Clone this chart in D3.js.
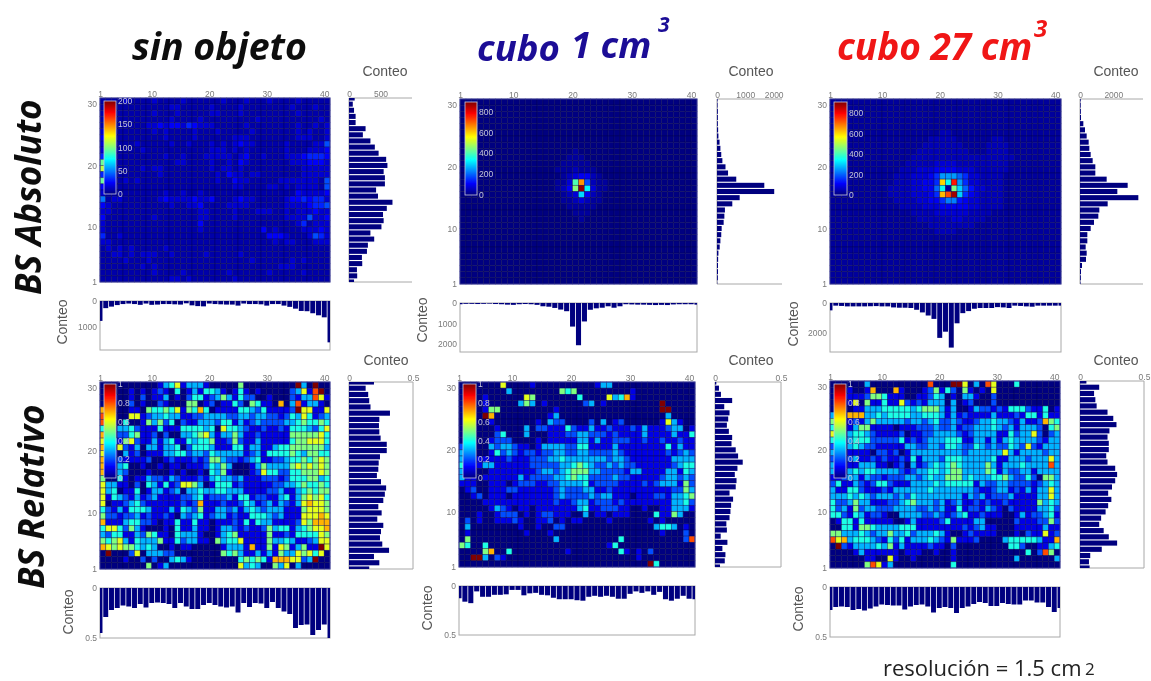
<!DOCTYPE html>
<html>
<head>
<meta charset="utf-8">
<script src="https://cdn.jsdelivr.net/npm/d3@7"></script>
<style>
body { margin: 0; background: #fff; }
svg { display: block; }
.tick text { font-family: "Liberation Sans", Arial, sans-serif; }
</style>
</head>
<body>
<div id="chart"></div>
<script>
// tick labels
const xTicks = [1, 10, 20, 30, 40];
const yTicks = [1, 10, 20, 30];

// cell values, one string per row, row 30 first, one base 36 digit per cell
const heatSinAbs = [
  "1111211112111121111112111211121111211111", "1111111111112211111211112111111112111211",
  "1111111112111211111221112111111111211111", "1111111111112111121111111112111111111121",
  "1111111122323324322211111211111111211212", "2111111112121111211121111121111111212112",
  "3111111111121111211111122211111111222112", "2111112111112112111212123221111121111225",
  "2111111211111111111222121211111121112223", "4211111111121121112222212311211122234443",
  "c211111111111221111211213211111112223332", "e211111212211111111212212111111111122222",
  "4111111111211111111121322122111111122222", "c211212111111111111121132211111222222215",
  "3111111111111111111111122111122121222215", "2111111111121121121111111111111111322223",
  "6122111111232222322311123221111123343442", "3211111111112112231111222211111122223445",
  "2211111111111111122111121112221121222322", "3111111112111111122111121111111122225223",
  "2111111111111111131111111111111111241222", "2111111111111111121111111111312111122232",
  "4112111111111111111111111111133321112542", "2211111111111111111111111111112122111222",
  "1212121111121111111111111111111111111111", "1122121222112111112111112111111111111111",
  "1111211121111111111111111121111112121111", "1111111212111111111111111111111222111111",
  "1111111112111121111111211111121111121111", "1111111111112212111111121111111111111111"
];
const heatCubo1Abs = [
  "0000000000000000000000000000000000000000", "0000000000000000000000000000000000000000",
  "0000000000000000000000000000000000000000", "0000000000000000000000000000000000000000",
  "0000000000000000000000000000000000000000", "0000000000000000000000000000000000000000",
  "0000000000000000000000000000000000000000", "0000000000000000000000000000000000000000",
  "0000000000000000000100000000000000000000", "0000000000000000001110000000000000000000",
  "0000000000000000011111000000000000000000", "0000000000000000111211100000000000000000",
  "0000000000000000012344210000000000000000", "0000000000000000113gq7211000000000000000",
  "0000000000000000124izd311000000000000000", "00000000000000000123c4210000000000000000",
  "0000000000000000011232110000000000000000", "0000000000000000001111100000000000000000",
  "0000000000000000000111000000000000000000", "0000000000000000000010000000000000000000",
  "0000000000000000000000000000000000000000", "0000000000000000000000000000000000000000",
  "0000000000000000000000000000000000000000", "0000000000000000000000000000000000000000",
  "0000000000000000000000000000000000000000", "0000000000000000000000000000000000000000",
  "0000000000000000000000000000000000000000", "0000000000000000000000000000000000000000",
  "0000000000000000000000000000000000000000", "0000000000000000000000000000000000000000"
];
const heatCubo27Abs = [
  "1111111111111111111111111111111111111111", "1111111111111111111111111111111111111111",
  "1111111111111111111111111111111111111111", "1111111111111111111111111111111111111111",
  "1111111111111111111111111111111111111111", "1111111111111111111221111111111111111111",
  "1111111111111111122222111111221111111111", "1111111111111111222222211112222111111111",
  "1111111111111112222222221112222111111111", "1111111111111122222222222222222211111111",
  "1111111111111222223333222222222111111111", "1111111111112223334444333222222111111111",
  "1111111111122233346aaa863322221111111111", "1111111111122233446oeva63322221111111111",
  "1111111111222233448e1ic85332221111111111", "1111111111222233346ptzc64322221111111111",
  "1111111111122223344699543322221111111111", "1111111111112222333444443322221111111111",
  "1111111111111122223333332222111111111111", "1111111111111112222223322221111111111111",
  "1111111111111111122222222111111111111111", "1111111111111111112222111111111111111111",
  "1111111111111111111111111111111111111111", "1111111111111111111111111111111111111111",
  "1111111111111111111111111111111111111111", "1111111111111111111111111111111111111111",
  "1111111111111111111111111111111111111111", "1111111111111111111111111111111111111111",
  "1111111111111111111111111111111111111111", "1111111111111111111111111111111111111111"
];
const heatSinRel = [
  "0000000000134613331000005000000000930900", "0000010101210401314431014101000002361890",
  "0010010201130102441235314220010002133861", "0010020100210005501201142054110703813310",
  "7000011054454615474011114432411112966116", "8000066123343311223333223323322124364123",
  "8000400153524021133324413123222233454454", "4003342111411144443406443211211214443246",
  "7002245112020033456313353112111115555564", "6031562113134114344511252113111114556664",
  "7006213033133402444311144133113445555553", "6010312011133442332433333123144445435544",
  "7002111120012111212553221234112234454565", "7003400100101101112435300013533335656565",
  "7003200010001010010435100012644224455565", "5004101132213211121343323111222124445534",
  "6331102043141266530144412111112233454454", "6340114013312303343344333111122311345455",
  "6143213123111122341222314412211341356564", "6011234211111121271112112431231321367665",
  "4213144431113143251133231343233311156665", "5221223121121032341233121144432311166676",
  "7111344221011411411011121414331111265777", "4664253100010411311013321211253441345667",
  "3244113254110433310013451111151121444465", "5456314333511423311053446111153343112366",
  "7656554343001011000001333171151651351196", "0900026033322000000005453113131533656460",
  "0000100202003431000000004545417776623900", "0000000050130000000000006343005360300000"
];
const heatCubo1Rel = [
  "0000000600001000000000013300000000000000", "0000000030000000054500000000010000000000",
  "0000100000065000000040000634710000000000", "0000100000353010000002301000000000900000",
  "0000155000000000100000000000000000990000", "0000970000000001300000000000000000030000",
  "0000010000000103220000203012000000163100", "0000001000030221114211311211121311123301",
  "0000002400030001112233222121111311113114", "0000012220000101111133131122211211211211",
  "2000032332110133332244111131111111141311", "3000014232122122332233222232111111121232",
  "3001111121112223343333333233211111113333", "4001331111112222233454322323221111112344",
  "3000011111111233234555332222133111133143", "3110111111312222334544222232211111233232",
  "1110011101222112233334122221111212333152", "0120011122111111232223311211111111112253",
  "0012011101111111232222323311101112213345", "0000111111111111211233122212111111113342",
  "0000013210110111111134112221100100113331", "0001001222010122111003011011100004115300",
  "0201001112100112010110000100000010100000", "0300000000100100220000000000000003443010",
  "0100000000010001000000000000000000100020", "0500000000000000300000000004000000000028",
  "5400400000000000000000000140000000000000", "0000570040000000001000000004101020000000",
  "0099302100000000000000000000001000000000", "0000000000000000000000000000000094000000"
];
const heatCubo27Rel = [
  "0000003000000000080009960308600040000000", "0001001700071000125142051010600000000000",
  "0111112554111001124301033100200000000000", "0001605114116212133303012000200000000000",
  "0000113334444434555313001322121444211401", "3007773343444433444313121111311121441411",
  "5001213533333233234223211233433213112754", "4001355111101112223223122333432313332045",
  "6003443211112011223333212333311423362023", "4003444222224121233344411331313433332133",
  "2003432211111332233244322432322432621333", "3001111022120133333333323333336313333233",
  "2002311212112141333244433333411333233363", "3001133311012031234345433335313334333383",
  "3003434433332123344345533335413223313333", "1123313221222332343355534333445322420553",
  "2411321244211133334344444132233222212343", "3114421112133333343333333211233121313363",
  "3334343233323243333333313231222311113363", "4223533111223453332312311212112111115343",
  "4231523322233332232311412213210211113342", "4421431221003333223212341121110013122341",
  "0144141111100131111241111330000021112252", "0044155433334441111111121231100011111311",
  "5533343233533423334310012111100010211612", "8673444321424133343215111200003444443117",
  "0921333343513111121102000000000442001134", "0000131111110111001001000000000000402850",
  "0000001100610010000001000000000030000003", "0000005861300000000004000000000000000000"
];

// histogram values, bottom ones run from column 1 to 41, side ones from row 31 to 1
const xHistSinAbs = [780,280,220,160,120,100,120,150,100,150,140,120,120,130,140,90,170,200,210,100,120,130,140,140,180,100,120,120,130,180,120,120,180,230,300,390,400,480,560,640,1620];
const yHistSinAbs = [90,60,80,105,105,263,220,340,410,470,590,610,550,570,570,430,460,690,600,540,550,515,340,400,300,285,205,210,126,130,80];
const xHistCubo1Abs = [60,40,40,50,40,30,50,60,80,90,60,50,60,90,160,180,240,320,400,1150,2060,900,330,260,230,160,230,160,60,70,80,80,90,100,90,100,70,60,60,60,80];
const yHistCubo1Abs = [20,20,30,30,30,40,50,90,120,150,190,300,390,680,1670,2020,800,540,280,260,235,165,150,120,95,50,40,35,35,30,10];
const xHistCubo27Abs = [500,180,200,230,230,230,230,220,210,230,230,300,320,320,340,460,640,850,1080,2370,1950,3030,1380,690,550,390,340,340,340,280,300,340,180,200,230,250,180,180,180,180,180];
const yHistCubo27Abs = [40,40,50,60,200,300,400,520,560,640,760,920,920,1600,2860,2240,3500,1660,1160,1100,840,640,440,440,340,400,360,120,60,50,30];
const xHistSinRel = [.45,.29,.22,.2,.175,.185,.2,.16,.195,.15,.145,.15,.16,.2,.15,.185,.21,.21,.17,.15,.17,.185,.195,.185,.245,.15,.19,.15,.155,.2,.14,.2,.235,.26,.4,.37,.365,.47,.42,.365,.5];
const yHistSinRel = [.195,.13,.15,.158,.168,.32,.237,.234,.237,.247,.295,.295,.242,.232,.229,.218,.25,.29,.28,.268,.229,.255,.221,.268,.25,.242,.26,.313,.195,.237,.158];
const xHistCubo1Rel = [.125,.16,.175,.055,.11,.11,.09,.09,.085,.04,.04,.095,.075,.07,.09,.095,.12,.135,.135,.135,.145,.15,.11,.1,.11,.1,.11,.13,.13,.08,.055,.07,.055,.09,.06,.135,.15,.13,.1,.13,.135];
const yHistCubo1Rel = [.01,.03,.045,.13,.07,.11,.1,.09,.105,.13,.125,.157,.175,.21,.17,.15,.163,.157,.11,.137,.122,.117,.11,.086,.09,.043,.094,.056,.079,.074,.038];
const xHistCubo27Rel = [.23,.2,.195,.2,.23,.22,.235,.215,.195,.175,.18,.185,.185,.225,.195,.18,.175,.195,.255,.21,.2,.21,.26,.21,.195,.17,.15,.16,.19,.19,.16,.17,.175,.175,.135,.135,.155,.155,.2,.25,.21];
const yHistCubo27Rel = [.05,.15,.11,.12,.13,.215,.26,.285,.23,.215,.225,.225,.205,.215,.275,.29,.275,.25,.22,.245,.22,.2,.165,.15,.185,.225,.29,.17,.08,.07,.075];

const parseCells = (rows, unit) => rows.map(row => Array.from(row.slice(0, 40), c => parseInt(c, 36) * unit));
// relative maps: digits are tenths, 9 stands for the dark red top of the scale
const parseRel = rows => rows.map(row => Array.from(row.slice(0, 40), c => (c === "9" ? 1 : +c / 10)));

const jet = d3.scaleLinear()
  .domain([0, .125, .375, .625, .875, 1])
  .range(["#000080", "#0000ff", "#00ffff", "#ffff00", "#ff0000", "#800000"]);

const greyText = "#7a7a7a";
const navy = "#00007f";

const panels = [
  { cells: parseCells(heatSinAbs, 8), max: 200, barTicks: [0, 50, 100, 150, 200], xHist: xHistSinAbs, yHist: yHistSinAbs,
    xMax: 1920, yMax: 1000, xAxisTicks: [0, 1000], yAxisTicks: [0, 500], open: true,
    x0: 100, x1: 330, y0: 98, y1: 282, bottom: [301, 350], side: [349, 412], bar: [104, 116, 101, 194], conteoTop: [385, 76], conteoLeft: [67, 322] },
  { cells: parseCells(heatCubo1Abs, 25), max: 890, barTicks: [0, 200, 400, 600, 800], xHist: xHistCubo1Abs, yHist: yHistCubo1Abs,
    xMax: 2390, yMax: 2295, xAxisTicks: [0, 1000, 2000], yAxisTicks: [0, 1000, 2000], open: true,
    x0: 460, x1: 697, y0: 99, y1: 284, bottom: [303, 352], side: [717, 782], bar: [465, 477, 102, 195], conteoTop: [751, 76], conteoLeft: [427, 320] },
  { cells: parseCells(heatCubo27Abs, 25), max: 905, barTicks: [0, 200, 400, 600, 800], xHist: xHistCubo27Abs, yHist: yHistCubo27Abs,
    xMax: 3330, yMax: 3780, xAxisTicks: [0, 2000], yAxisTicks: [0, 2000], open: true,
    x0: 830, x1: 1061, y0: 99, y1: 284, bottom: [303, 352], side: [1080, 1143], bar: [834, 847, 102, 195], conteoTop: [1116, 76], conteoLeft: [798, 324] },
  { cells: parseRel(heatSinRel), max: 1, barTicks: [0, .2, .4, .6, .8, 1], xHist: xHistSinRel, yHist: yHistSinRel,
    xMax: .5, yMax: .5, xAxisTicks: [0, .5], yAxisTicks: [0, .5], open: false,
    x0: 100, x1: 330, y0: 382, y1: 569, bottom: [588, 638], side: [349, 413], bar: [104, 116, 384, 478], conteoTop: [386, 365], conteoLeft: [73, 612] },
  { cells: parseRel(heatCubo1Rel), max: 1, barTicks: [0, .2, .4, .6, .8, 1], xHist: xHistCubo1Rel, yHist: yHistCubo1Rel,
    xMax: .5, yMax: .5, xAxisTicks: [0, .5], yAxisTicks: [0, .5], open: false,
    x0: 459, x1: 695, y0: 382, y1: 567, bottom: [586, 635], side: [715, 781], bar: [463, 476, 384, 478], conteoTop: [751, 365], conteoLeft: [432, 608] },
  { cells: parseRel(heatCubo27Rel), max: 1, barTicks: [0, .2, .4, .6, .8, 1], xHist: xHistCubo27Rel, yHist: yHistCubo27Rel,
    xMax: .5, yMax: .5, xAxisTicks: [0, .5], yAxisTicks: [0, .5], open: false,
    x0: 830, x1: 1060, y0: 381, y1: 568, bottom: [587, 637], side: [1080, 1144], bar: [834, 846, 384, 478], conteoTop: [1116, 365], conteoLeft: [803, 609] }
];

const svg = d3.select("#chart").append("svg").attr("width", 1151).attr("height", 681);

const defs = svg.append("defs");
defs.append("filter").attr("id", "soft").attr("x", "-5%").attr("y", "-5%").attr("width", "110%").attr("height", "110%")
  .append("feGaussianBlur").attr("stdDeviation", 0.55);

const grad = defs.append("linearGradient").attr("id", "jetBar").attr("x1", 0).attr("x2", 0).attr("y1", 1).attr("y2", 0);
jet.domain().forEach(t => grad.append("stop").attr("offset", t).attr("stop-color", jet(t)));

const root = svg.append("g").attr("filter", "url(#soft)");

const styleAxis = (g, size) => {
  g.select(".domain").remove();
  g.selectAll("text").attr("fill", greyText).attr("font-size", size);
};

panels.forEach((p, idx) => {
  const g = root.append("g");
  const x = d3.scaleLinear().domain([1, 41]).range([p.x0, p.x1]);
  const y = d3.scaleLinear().domain([1, 31]).range([p.y1, p.y0]);
  const color = v => jet(v / p.max);

  // heat map, first string is row 30
  p.cells.forEach((row, r) => {
    g.selectAll(null)
      .data(row)
      .enter()
      .append("rect")
      .attr("x", (d, i) => x(i + 1))
      .attr("y", y(31 - r))
      .attr("width", (d, i) => x(i + 2) - x(i + 1))
      .attr("height", y(30 - r) - y(31 - r))
      .attr("fill", d => color(d))
      .attr("stroke", "#00004a")
      .attr("stroke-opacity", 0.55)
      .attr("stroke-width", 0.7);
  });
  g.append("rect")
    .attr("x", p.x0).attr("y", p.y0)
    .attr("width", p.x1 - p.x0).attr("height", p.y1 - p.y0)
    .attr("fill", "none").attr("stroke", "#3a3a9a").attr("stroke-width", 1);

  g.append("g").attr("transform", `translate(0,${p.y0})`)
    .call(d3.axisTop(x).tickValues(xTicks).tickSize(0).tickPadding(1))
    .call(a => styleAxis(a, 8.5));
  g.append("g").attr("transform", `translate(${p.x0},0)`)
    .call(d3.axisLeft(y).tickValues(yTicks).tickSize(0).tickPadding(3))
    .call(a => styleAxis(a, 8.5));

  // colour bar inside the map
  const [bx0, bx1, by0, by1] = p.bar;
  g.append("rect")
    .attr("x", bx0).attr("y", by0)
    .attr("width", bx1 - bx0).attr("height", by1 - by0)
    .attr("fill", "url(#jetBar)").attr("stroke", "#c8c8e0").attr("stroke-width", 0.8);
  const barScale = d3.scaleLinear().domain([0, p.max]).range([by1, by0]);
  g.append("g").attr("transform", `translate(${bx1},0)`)
    .call(d3.axisRight(barScale).tickValues(p.barTicks).tickSize(0).tickPadding(2).tickFormat(d => d))
    .call(a => {
      a.select(".domain").remove();
      a.selectAll("text").attr("fill", "#c4c4d8").attr("font-size", 8.5);
    });

  // bottom histogram, drawn downwards
  const [hy0, hy1] = p.bottom;
  const hy = d3.scaleLinear().domain([0, p.xMax]).range([hy0, hy1]);
  const clipB = `clipB${idx}`;
  defs.append("clipPath").attr("id", clipB).append("rect")
    .attr("x", p.x0).attr("y", hy0).attr("width", p.x1 - p.x0).attr("height", hy1 - hy0);
  g.append("rect")
    .attr("x", p.x0).attr("y", hy0)
    .attr("width", p.x1 - p.x0).attr("height", hy1 - hy0)
    .attr("fill", "none").attr("stroke", "#a8a8a8").attr("stroke-width", 1);
  const colW = x(2) - x(1);
  g.append("g").attr("clip-path", `url(#${clipB})`)
    .selectAll("rect")
    .data(p.xHist)
    .enter()
    .append("rect")
    .attr("x", (d, i) => x(i + 1) - colW * 0.43)
    .attr("y", hy0)
    .attr("width", colW * 0.86)
    .attr("height", d => hy(d) - hy0)
    .attr("fill", navy);
  g.append("g").attr("transform", `translate(${p.x0},0)`)
    .call(d3.axisLeft(hy).tickValues(p.xAxisTicks).tickSize(0).tickPadding(3).tickFormat(d => d))
    .call(a => styleAxis(a, 8.5));

  // side histogram, drawn to the right
  const [sx0, sx1] = p.side;
  const sx = d3.scaleLinear().domain([0, p.yMax]).range([sx0, sx1]);
  const clipS = `clipS${idx}`;
  defs.append("clipPath").attr("id", clipS).append("rect")
    .attr("x", sx0).attr("y", p.y0).attr("width", sx1 - sx0).attr("height", p.y1 - p.y0);
  const sidePath = p.open
    ? `M${sx1},${p.y0}H${sx0}V${p.y1}H${sx1}`
    : `M${sx1},${p.y0}H${sx0}V${p.y1}H${sx1}Z`;
  g.append("path").attr("d", sidePath).attr("fill", "none").attr("stroke", "#a8a8a8").attr("stroke-width", 1);
  const rowH = y(1) - y(2);
  g.append("g").attr("clip-path", `url(#${clipS})`)
    .selectAll("rect")
    .data(p.yHist)
    .enter()
    .append("rect")
    .attr("x", sx0)
    .attr("y", (d, i) => y(31 - i) - rowH * 0.41)
    .attr("width", d => sx(d) - sx0)
    .attr("height", rowH * 0.82)
    .attr("fill", navy);
  g.append("g").attr("transform", `translate(0,${p.y0})`)
    .call(d3.axisTop(sx).tickValues(p.yAxisTicks).tickSize(0).tickPadding(1).tickFormat(d => d))
    .call(a => styleAxis(a, 8.5));

  // Conteo labels
  g.append("text")
    .attr("x", p.conteoTop[0]).attr("y", p.conteoTop[1])
    .attr("text-anchor", "middle")
    .attr("font-family", "'Liberation Sans', Arial, sans-serif").attr("font-size", 14).attr("fill", "#555")
    .text("Conteo");
  g.append("text")
    .attr("transform", `translate(${p.conteoLeft[0]},${p.conteoLeft[1]}) rotate(-90)`)
    .attr("text-anchor", "middle")
    .attr("font-family", "'Liberation Sans', Arial, sans-serif").attr("font-size", 14).attr("fill", "#555")
    .text("Conteo");
});

// big titles
const addTitle = (txt, tx, ty, size, fill) => root.append("text")
  .attr("x", tx).attr("y", ty)
  .attr("font-family", "'Open Sans', 'Noto Sans', sans-serif")
  .attr("font-weight", 700).attr("font-style", "italic")
  .attr("font-size", size).attr("fill", fill)
  .text(txt);

addTitle("sin  objeto", 132, 60, 37.5, "#0a0a0a");
addTitle("cubo", 477, 61, 36.5, "#1a0a96");
addTitle("1 cm", 571, 58, 36.5, "#1a0a96");
addTitle("3", 658, 32, 21, "#1a0a96");
addTitle("cubo 27 cm", 837, 60, 37, "#f01414");
addTitle("3", 1034, 37, 24, "#f01414");

const addRowLabel = (txt, tx, ty) => root.append("text")
  .attr("transform", `translate(${tx},${ty}) rotate(-90)`)
  .attr("font-family", "'Open Sans', 'Noto Sans', sans-serif")
  .attr("font-weight", 700).attr("font-style", "italic")
  .attr("font-size", 35).attr("fill", "#0a0a0a")
  .text(txt);

addRowLabel("BS Absoluto", 41, 295);
addRowLabel("BS Relativo", 44, 589);

root.append("text")
  .attr("x", 883).attr("y", 676)
  .attr("font-family", "'Open Sans', 'Noto Sans', sans-serif")
  .attr("font-size", 22).attr("fill", "#222")
  .text("resolución = 1.5 cm");
root.append("text")
  .attr("x", 1085).attr("y", 675)
  .attr("font-family", "'Open Sans', 'Noto Sans', sans-serif")
  .attr("font-size", 17).attr("fill", "#222")
  .text("2");
</script>
</body>
</html>
